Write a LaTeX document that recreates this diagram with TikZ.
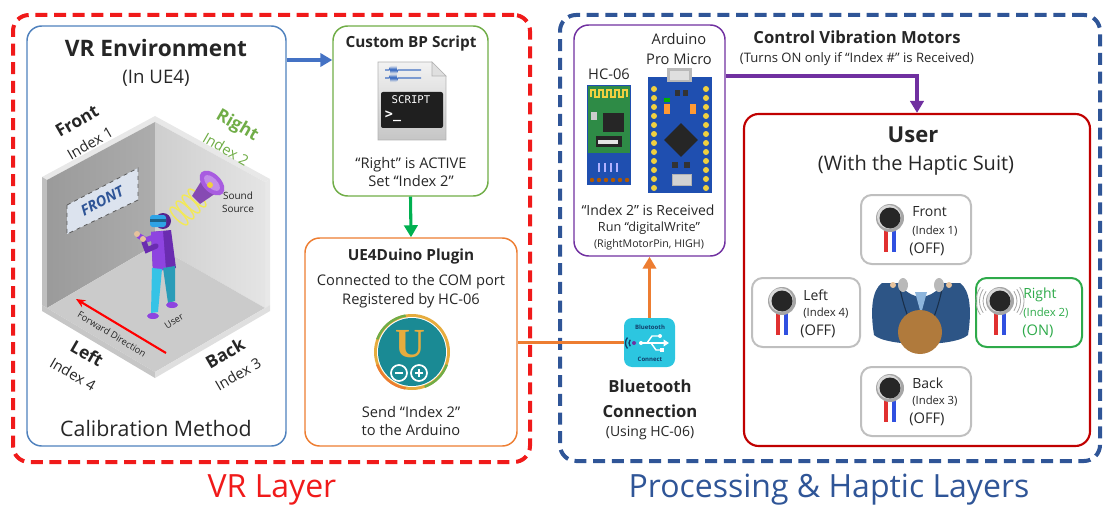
\documentclass[tikz,border=0pt]{standalone}
\usepackage{fontspec}
\setmainfont{Open Sans}
\newfontfamily\codefont{DejaVu Sans Mono}
\newfontfamily\serifbold{Liberation Serif}
\usetikzlibrary{arrows.meta,calc,fit,shapes.geometric}

\definecolor{vrred}{HTML}{F01A1A}
\definecolor{hapblue}{HTML}{2F5597}
\definecolor{envblue}{HTML}{4F81BD}
\definecolor{bpgreen}{HTML}{70AD47}
\definecolor{arrowblue}{HTML}{4472C4}
\definecolor{arrowgreen}{HTML}{00B050}
\definecolor{plugorange}{HTML}{ED7D31}
\definecolor{ardpurple}{HTML}{7030A0}
\definecolor{userred}{HTML}{C00000}
\definecolor{txt}{HTML}{262626}
\definecolor{ongreen}{HTML}{2EAA4A}
\definecolor{rightgreen}{HTML}{70AD47}
\definecolor{motorgray}{HTML}{BFBFBF}
\definecolor{ringgray}{HTML}{A6A6A6}
\definecolor{motordark}{HTML}{262626}
\definecolor{wirered}{HTML}{E03030}
\definecolor{wireblue}{HTML}{3050E0}
\definecolor{wallL}{HTML}{A8A8A8}
\definecolor{wallR}{HTML}{D9D9D9}
\definecolor{floorc}{HTML}{CBCBCB}
\definecolor{wallTop}{HTML}{E8E8E8}
\definecolor{shirt}{HTML}{8E44E0}
\definecolor{shirtdark}{HTML}{6A2CB0}
\definecolor{pants}{HTML}{35C3E6}
\definecolor{skin}{HTML}{E6C29C}
\definecolor{visor}{HTML}{2EA3E6}
\definecolor{speaker}{HTML}{A85CE0}
\definecolor{coil}{HTML}{F2E85A}
\definecolor{signfill}{HTML}{DCE3EE}
\definecolor{teal}{HTML}{1A8A94}
\definecolor{gold}{HTML}{E6AC3E}
\definecolor{btcyan}{HTML}{2CC6E0}
\definecolor{btdark}{HTML}{123E6B}
\definecolor{pcbblue}{HTML}{1F4FB0}
\definecolor{pcbgreen}{HTML}{2E8B46}
\definecolor{pinyellow}{HTML}{F0D040}
\definecolor{jacket}{HTML}{2D5586}
\definecolor{collar}{HTML}{8DB5DC}
\definecolor{hairbrown}{HTML}{B07A3C}

\newcommand\fs[2]{\fontsize{#1}{#2}\selectfont}

% vibration motor: centre x, centre y
\newcommand\vibmotor[2]{%
  \fill[wirered] (#1-6,#2+10) rectangle (#1-2,#2+34);
  \fill[wireblue] (#1+2,#2+10) rectangle (#1+6,#2+34);
  \fill[ringgray] (#1,#2) circle[radius=14];
  \fill[gray!30] (#1-1,#2-1) circle[radius=12];
  \fill[motordark] (#1,#2) circle[radius=10.5];
}

\tikzset{
  layerbox/.style={rounded corners=12pt, line width=3pt, dash pattern=on 9pt off 5pt, inner sep=0pt},
  panel/.style={draw, rounded corners=11pt, line width=1.1pt, inner sep=0pt},
  motorbox/.style={draw=motorgray, rounded corners=8pt, line width=1.5pt, inner sep=0pt},
  lbl/.style={inner sep=0pt, text=txt},
  link/.style={line width=2.3pt},
  tip/.style={-{Triangle[length=9pt,width=10pt]}},
}

\begin{document}
\begin{tikzpicture}[x=0.75pt,y=-0.75pt]
\useasboundingbox (0,0) rectangle (1105,506);

% ---------- layer frames ----------
\node[layerbox, draw=vrred, fit={(13,15)(530,462)}] (vrlayer) {};
\node[layerbox, draw=hapblue, fit={(560,15)(1100,461)}] (haplayer) {};
\node[inner sep=0pt, text=vrred, font=\fs{24}{28}] (vrname) at (272,490) {VR Layer};
\node[inner sep=0pt, text=hapblue, font=\fs{24}{28}] (hapname) at (829,490) {Processing \& Haptic Layers};

% ---------- VR environment ----------
\node[panel, draw=envblue, fit={(27,26)(286,446)}] (vrenv) {};
\node[lbl, font=\bfseries\fs{17}{20}] (vrtitle) at (156,48) {VR Environment};
\node[lbl, font=\fs{14}{17}] (vrsub) at (156,78) {(In UE4)};
\node[lbl, font=\fs{16}{19}] (calib) at (156,428) {Calibration Method};

% room: walls, floor, wall thickness
\fill[wallTop] (47,180) -- (155,122) -- (155,116) -- (42,177) -- cycle;
\fill[wallTop] (155,122) -- (265,182) -- (270,179) -- (155,116) -- cycle;
\fill[gray!50] (47,180) -- (47,308) -- (42,305) -- (42,177) -- cycle;
\fill[gray!18] (265,182) -- (265,308) -- (270,305) -- (270,179) -- cycle;
\shade[left color=wallL!92!black, right color=wallL!95!white] (47,180) -- (155,122) -- (155,245) -- (47,308) -- cycle;
\shade[left color=wallR!88!gray, right color=wallR!70!white] (155,122) -- (265,182) -- (265,308) -- (155,245) -- cycle;
\fill[floorc] (47,308) -- (155,245) -- (265,308) -- (155,372) -- cycle;
\fill[gray!45] (42,305) -- (47,308) -- (155,372) -- (155,378) -- (42,311) -- cycle;
\fill[gray!25] (155,372) -- (265,308) -- (270,305) -- (270,311) -- (155,378) -- cycle;

% FRONT sign on the left wall
\filldraw[fill=signfill, draw=gray!70!black, dashed, line width=0.6pt] (67,205) -- (138,168) -- (138,200) -- (67,234) -- cycle;
\node[inner sep=0pt, text=hapblue, rotate=28, font=\bfseries\itshape\fs{11}{13}] (signtxt) at (102,201) {FRONT};

% sound source
\foreach \t in {0,1,2,3} {
  \draw[coil, line width=1.1pt, rotate around={45:(197-6*\t,198+6*\t)}] (197-6*\t,198+6*\t) ellipse[x radius=4, y radius=12];
}
\fill[speaker!80!black] (192,196) -- (200,204) -- (219,191) -- (205,175) -- cycle;
\fill[speaker, rotate around={-45:(212,183)}] (212,183) ellipse[x radius=15, y radius=9];
\fill[speaker!70!white, rotate around={-45:(212,183)}] (212,183) ellipse[x radius=10, y radius=5];
\fill[pinyellow] (210,185) circle[radius=3];
\node[lbl, font=\fs{7.5}{9.5}, align=center] (sound) at (238,202) {Sound\\Source};

% user in the room
\fill[shirtdark] (151,232) -- (171,230) -- (176,268) -- (153,271) -- cycle;
\fill[shirt] (151,232) -- (163,231) -- (166,270) -- (153,271) -- cycle;
\draw[shirt, line width=4pt, line cap=round] (154,237) -- (146,240) -- (139,236);
\draw[shirtdark, line width=4pt, line cap=round] (156,246) -- (147,250) -- (144,242);
\fill[skin] (137,234) circle[radius=3];
\fill[skin] (143,239) circle[radius=3];
\fill[shirtdark!80!black] (163,221) circle[radius=8];
\fill[visor, rounded corners=2pt] (150,215) rectangle (166,227);
\fill[visor!60!black] (150,219) rectangle (166,222);
\fill[pants] (152,268) -- (162,269) -- (158,312) -- (151,313) -- cycle;
\fill[pants!80!black] (163,268) -- (175,266) -- (175,301) -- (168,303) -- cycle;
\fill[shirt] (153,316) ellipse[x radius=6, y radius=3];
\fill[shirt] (172,305) ellipse[x radius=6, y radius=3];

% forward direction on the floor
\draw[red, line width=1.6pt, -{Stealth[length=7pt,width=6pt]}] (166,353) -- (76,299);
\node[lbl, rotate=-31, font=\fs{7}{9}] (fwd) at (112,334) {Forward Direction};
\node[lbl, rotate=32, font=\fs{7}{9}] (usr) at (174,321) {User};

% direction labels
\node[lbl, rotate=30, font=\bfseries\fs{13}{15}] (lfront) at (77,121) {Front};
\node[lbl, rotate=30, font=\fs{11}{13}] (ifront) at (90,143) {Index 1};
\node[inner sep=0pt, text=rightgreen, rotate=-30, font=\bfseries\fs{13}{15}] (lright) at (237,126) {Right};
\node[inner sep=0pt, text=rightgreen, rotate=-30, font=\fs{11}{13}] (iright) at (226,149) {Index 2};
\node[lbl, rotate=-30, font=\bfseries\fs{13}{15}] (lleft) at (87,353) {Left};
\node[lbl, rotate=-30, font=\fs{11}{13}] (ileft) at (73,374) {Index 4};
\node[lbl, rotate=30, font=\bfseries\fs{13}{15}] (lback) at (225,353) {Back};
\node[lbl, rotate=30, font=\fs{11}{13}] (iback) at (238,374) {Index 3};

% ---------- Custom BP script ----------
\node[panel, draw=bpgreen, fit={(333,26)(488,196)}] (bp) {};
\node[lbl, font=\bfseries\fs{11.5}{14}] (bptitle) at (411,44) {Custom BP Script};
\shade[top color=gray!10, bottom color=gray!45, draw=gray!60] (378,62) -- (432,62) -- (446,76) -- (446,140) -- (378,140) -- cycle;
\filldraw[fill=gray!25, draw=gray!60] (432,62) -- (432,76) -- (446,76) -- cycle;
\foreach \yy in {70,78} {
  \draw[arrowblue, line width=0.8pt] (385,\yy) -- (389,\yy) -- (390,\yy-2) -- (391,\yy+2) -- (392,\yy-2) -- (393,\yy+2) -- (394,\yy-2) -- (395,\yy+2) -- (396,\yy-2) -- (397,\yy+2) -- (398,\yy) -- (421,\yy);
}
\fill[black!88, rounded corners=1.5pt] (381,92) rectangle (443,128);
\node[inner sep=0pt, text=white, font=\codefont\fs{8}{9}] (scripttxt) at (411,100) {SCRIPT};
\node[inner sep=0pt, text=white, font=\codefont\bfseries\fs{10}{11}] (prompt) at (393,116) {>\_};
\node[lbl, font=\fs{11}{14}, align=center] (bptext) at (411,172) {“Right” is ACTIVE\\Set “Index 2”};

% ---------- UE4Duino plugin ----------
\node[panel, draw=plugorange, fit={(305,238)(517,446)}] (plugin) {};
\node[lbl, font=\bfseries\fs{11.5}{14}] (pltitle) at (411,257) {UE4Duino Plugin};
\node[lbl, font=\fs{11}{14}, align=center] (pltext) at (411,291) {Connected to the COM port\\Registered by HC-06};
\fill[gold] (412,352) circle[radius=38];
\draw[bpgreen, line width=1.8pt] (412,352) ++(200:37) arc[start angle=200, end angle=260, radius=37];
\draw[bpgreen, line width=1.8pt] (412,352) ++(20:37) arc[start angle=20, end angle=70, radius=37];
\draw[plugorange, line width=1.8pt] (412,352) ++(100:37) arc[start angle=100, end angle=160, radius=37];
\fill[white] (412,352) circle[radius=35];
\fill[teal] (412,352) circle[radius=34];
\node[inner sep=0pt, text=gold, font=\serifbold\bfseries\fs{31}{32}] (ulogo) at (410,344) {U};
\draw[white, line width=1.3pt] (399,373) circle[radius=8] (419,373) circle[radius=8];
\draw[white, line width=1.3pt] (395,373) -- (403,373) (415,373) -- (423,373) (419,369) -- (419,377);
\node[lbl, font=\fs{11}{14}, align=center] (plsend) at (411,421) {Send “Index 2”\\to the Arduino};

% ---------- Arduino / HC-06 ----------
\node[panel, draw=ardpurple, fit={(574,25)(725,256)}] (ard) {};
\node[lbl, font=\fs{11}{13}] (hclabel) at (609,74) {HC-06};
\node[lbl, font=\fs{11}{15.5}, align=center] (ardlabel) at (679,49) {Arduino\\Pro Micro};
% HC-06 board
\fill[pcbblue] (587,85) rectangle (631,185);
\fill[pcbgreen] (588,86) rectangle (630,153);
\draw[pinyellow, line width=1pt] (591,97) -- (591,90) -- (595,90) -- (595,97) -- (599,97) -- (599,90) -- (603,90) -- (603,97) -- (607,97) -- (607,90) -- (611,90) -- (611,97) -- (615,97) -- (615,90) -- (619,90) -- (619,97) -- (623,97) -- (623,90) -- (627,90) -- (627,97);
\fill[black!85] (603,113) rectangle (624,132);
\fill[black!85] (596,136) rectangle (622,147);
\fill[gray!40] (591,112) rectangle (597,120);
\fill[white!80!gray] (598,140) rectangle (618,144);
\foreach \i in {0,...,5} { \fill[orange!70!black] (592+\i*7,180) circle[radius=2.2]; }
\foreach \i in {0,...,3} { \fill[white!70!blue] (598+\i*6,163) rectangle (600+\i*6,172); }
% Pro Micro board
\fill[pcbblue] (648,77) rectangle (712,193);
\fill[gray!55] (667,68) rectangle (692,82);
\fill[gray!25] (670,71) rectangle (689,80);
\foreach \i in {0,...,11} {
  \fill[pinyellow] (654,89+\i*9) circle[radius=3];
  \fill[pinyellow] (706,89+\i*9) circle[radius=3];
}
\fill[black!85, rotate around={45:(681,140)}] (669,128) rectangle (693,152);
\fill[orange!80] (664,104) rectangle (670,114);
\fill[orange!80] (690,104) rectangle (696,114);
\fill[green!70!black] (664,98) rectangle (670,102);
\fill[black!80] (675,90) rectangle (680,96);
\fill[black!80] (683,90) rectangle (688,96);
\fill[black!80] (672,162) rectangle (678,168);
\fill[black!80] (684,162) rectangle (690,168);
\fill[gray!35, draw=gray!60] (672,174) rectangle (691,185);
\node[lbl, font=\fs{10.5}{12}] (rx) at (648,210) {“Index 2” is Received};
\node[lbl, font=\fs{9.5}{11}] (run) at (649,228) {Run “digitalWrite”};
\node[lbl, font=\fs{8}{10}] (pin) at (649,245) {(RightMotorPin, HIGH)};

% ---------- Bluetooth ----------
\node[fill=btcyan, rounded corners=6pt, inner sep=0pt, fit={(624,318)(675,367)}] (bt) {};
\node[inner sep=0pt, text=btdark, font=\bfseries\fs{4.5}{5}] (btt) at (650,327) {Bluetooth};
\node[inner sep=0pt, text=btdark, font=\bfseries\fs{4.5}{5}] (btc) at (650,359) {Connect};
\draw[white, line width=1.3pt, -{Triangle[length=4pt,width=5pt]}] (641,343) -- (669,343);
\draw[white, line width=1.1pt] (647,343) -- (652,336) -- (659,336);
\fill[white] (660,336) circle[radius=2];
\draw[white, line width=1.1pt] (651,343) -- (656,350) -- (661,350);
\fill[white] (660,348) rectangle (664,352);
\fill[white] (641,343) circle[radius=2];
\fill[ardpurple] (634,343) circle[radius=2];
\draw[btdark, line width=1pt] (634,343) ++(140:5) arc[start angle=140, end angle=220, radius=5];
\draw[btdark, line width=1pt] (634,343) ++(140:8.5) arc[start angle=140, end angle=220, radius=8.5];
\node[lbl, font=\bfseries\fs{12.5}{18.5}, align=center] (btlabel) at (650,399) {Bluetooth\\Connection};
\node[lbl, font=\fs{10.5}{12}] (btsub) at (650,433) {(Using HC-06)};

% ---------- Control vibration motors ----------
\node[lbl, font=\bfseries\fs{12.5}{15}] (ctltitle) at (857,37) {Control Vibration Motors};
\node[lbl, font=\fs{9.8}{12}] (ctlsub) at (857,59) {(Turns ON only if “Index \#” is Received)};

% ---------- User with haptic suit ----------
\node[panel, draw=userred, line width=1.6pt, fit={(744,114)(1090,446)}] (user) {};
\node[lbl, font=\bfseries\fs{16.5}{19}] (usertitle) at (913,135) {User};
\node[lbl, font=\fs{15}{18}] (usersub) at (916,165) {(With the Haptic Suit)};

% top view of the wearer
\fill[jacket] (874,335) .. controls (870,310) and (872,290) .. (882,283) -- (899,283) .. controls (905,292) and (912,296) .. (921,297) .. controls (930,296) and (937,292) .. (943,283) -- (960,283) .. controls (970,290) and (972,310) .. (968,335) .. controls (955,347) and (887,347) .. (874,335) -- cycle;
\draw[jacket!55!black, line width=0.8pt] (899,284) .. controls (903,305) and (908,318) .. (912,325);
\draw[jacket!55!black, line width=0.8pt] (943,284) .. controls (939,305) and (934,318) .. (930,325);
\fill[collar] (915,292) -- (927,292) -- (921,314) -- cycle;
\fill[gray!55] (903,285) ellipse[x radius=5, y radius=7];
\fill[gray!55] (939,285) ellipse[x radius=5, y radius=7];
\fill[skin] (893,285) circle[radius=3];
\fill[skin] (949,285) circle[radius=3];
\fill[hairbrown] (920,332) circle[radius=22];

% motor panels
\node[motorbox, fit={(861,195)(971,264)}] (mfront) {};
\vibmotor{890}{218}
\node[lbl, anchor=west, font=\fs{10.5}{12}] (tfront) at (912,212) {Front};
\node[lbl, anchor=west, font=\fs{8.5}{10}] (ifront2) at (912,231) {(Index 1)};
\node[lbl, anchor=west, font=\fs{11}{13}] (ofront) at (909,249) {(OFF)};

\node[motorbox, fit={(752,278)(860,347)}] (mleft) {};
\vibmotor{782}{301}
\node[lbl, anchor=west, font=\fs{10.5}{12}] (tleft) at (803,295) {Left};
\node[lbl, anchor=west, font=\fs{8.5}{10}] (ileft2) at (803,313) {(Index 4)};
\node[lbl, anchor=west, font=\fs{11}{13}] (oleft) at (800,331) {(OFF)};

\node[motorbox, draw=ongreen, fit={(976,278)(1082,347)}] (mright) {};
\foreach \r in {17,20.5,24} {
  \draw[gray!70, line width=0.6pt] (1000,301) ++(145:\r) arc[start angle=145, end angle=215, radius=\r];
  \draw[gray!70, line width=0.6pt] (1000,301) ++(-35:\r) arc[start angle=-35, end angle=35, radius=\r];
}
\vibmotor{1000}{301}
\node[inner sep=0pt, text=ongreen, anchor=west, font=\fs{10.5}{12}] (tright) at (1023,295) {Right};
\node[inner sep=0pt, text=ongreen, anchor=west, font=\fs{8.5}{10}] (iright2) at (1023,313) {(Index 2)};
\node[inner sep=0pt, text=ongreen, anchor=west, font=\fs{11}{13}] (oright) at (1022,331) {(ON)};

\node[motorbox, fit={(861,367)(971,436)}] (mback) {};
\vibmotor{890}{388}
\node[lbl, anchor=west, font=\fs{10.5}{12}] (tback) at (912,383) {Back};
\node[lbl, anchor=west, font=\fs{8.5}{10}] (iback2) at (912,401) {(Index 3)};
\node[lbl, anchor=west, font=\fs{11}{13}] (oback) at (909,419) {(OFF)};

% ---------- connectors ----------
\coordinate (ybp) at (0,60);
\coordinate (ctl) at (917,76);
\draw[link, draw=arrowblue, tip] (vrenv.east |- ybp) -- (bp.west |- ybp);
\draw[link, draw=arrowgreen, tip] (bp.south) -- (plugin.north);
\draw[link, draw=plugorange] (plugin.east |- bt.west) -- (bt.west);
\draw[link, draw=plugorange, tip] (bt.north) -- (bt.north |- ard.south);
\draw[link, draw=ardpurple, tip] (ard.east |- ctl) -- (ctl) -- (ctl |- user.north);
\end{tikzpicture}
\end{document}
